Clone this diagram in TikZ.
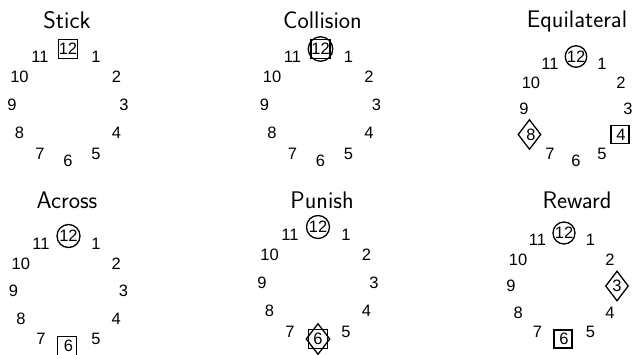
\documentclass[tikz,border=0pt]{standalone}
\usepackage{fontspec}
\newfontfamily\numfont{Liberation Sans}
\usetikzlibrary{shapes.geometric}
\tikzset{
  num/.style={font=\numfont\fontsize{16.5}{18}\selectfont, inner sep=0pt, anchor=center},
  ttl/.style={font=\sffamily\fontsize{24}{28}\selectfont, inner sep=0pt, anchor=base},
  mk/.style={draw, line width=1.3pt, inner sep=0pt},
  sqmark/.style={mk, rectangle, minimum size=#1},
  sqmark/.default=18.5pt,
  cimark/.style={mk, circle, minimum size=#1},
  cimark/.default=23pt,
  dimark/.style={mk, diamond, minimum width=23pt, minimum height=30pt},
}
\newcommand\myclock[4]{%
  \foreach \k in {1,...,12}{%
    \node[num] (#1-\k) at ({#2+#4*cos(90-30*\k)},{#3-#4*sin(90-30*\k)}) {\k};
  }%
}
\begin{document}
\begin{tikzpicture}[x=1pt,y=-1pt]
\useasboundingbox (0,0) rectangle (643,354);
% titles
\node[ttl] (t1) at (67,28.5) {Stick};
\node[ttl] (t2) at (322.5,28.5) {Collision};
\node[ttl] (t3) at (577,27) {Equilateral};
\node[ttl] (t4) at (67,208.5) {Across};
\node[ttl] (t5) at (322,208.5) {Punish};
\node[ttl] (t6) at (577,208.5) {Reward};
% clocks
\myclock{a}{68}{105}{56}
\myclock{b}{320.5}{105}{56}
\myclock{c}{576}{108.5}{52}
\myclock{d}{68.5}{291}{55}
\myclock{e}{318}{283}{56}
\myclock{f}{564}{286}{53}
% Stick
\node[sqmark] (ma) at (a-12.center) {};
% Collision
\node[cimark=24.5pt] (mb1) at (b-12.center) {};
\node[sqmark=19pt] (mb2) at (b-12.center) {};
% Equilateral
\node[cimark=21.5pt] (mc1) at (c-12.center) {};
\node[dimark] (mc2) at ([xshift=-1.5pt]c-8.center) {};
\node[sqmark=18pt] (mc3) at ([xshift=-1pt]c-4.center) {};
% Across
\node[cimark] (md1) at (d-12.center) {};
\node[sqmark] (md2) at ([xshift=-1.5pt]d-6.center) {};
% Punish
\node[cimark] (me1) at (e-12.center) {};
\node[mk, diamond, minimum width=24pt, minimum height=31pt] (me2) at (e-6.center) {};
\node[sqmark=19pt] (me3) at (e-6.center) {};
% Reward
\node[cimark=22pt] (mf1) at (f-12.center) {};
\node[dimark] (mf2) at (f-3.center) {};
\node[sqmark=18pt] (mf3) at ([xshift=-1pt]f-6.center) {};
\end{tikzpicture}
\end{document}
